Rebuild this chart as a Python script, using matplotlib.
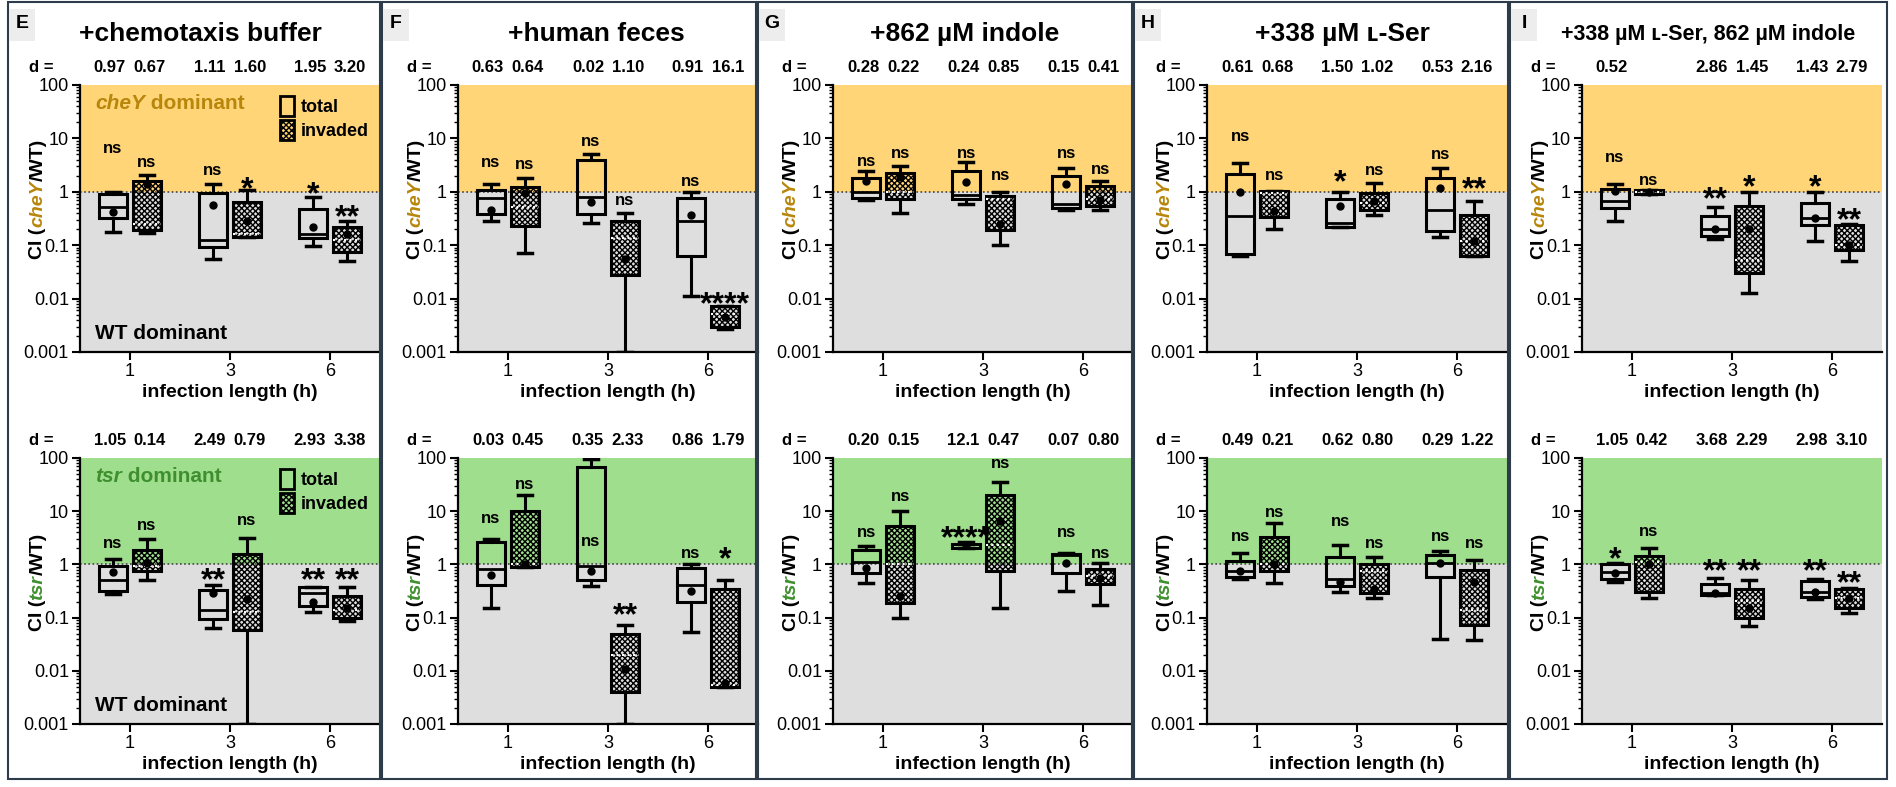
import numpy as np
import matplotlib.pyplot as plt
from matplotlib.patches import Patch, Rectangle
from matplotlib.ticker import LogLocator, NullFormatter

plt.rcParams['font.family'] = ['Liberation Sans', 'DejaVu Sans']
plt.rcParams['hatch.linewidth'] = 1.0

# box stats per time point (1, 3, 6 h): whislo, q1, median, q3, whishi, mean
E_cheY_total = [(0.18, 0.32, 0.52, 0.90, 1.0, 0.42), (0.054, 0.093, 0.127, 0.96, 1.43, 0.56), (0.097, 0.137, 0.165, 0.47, 0.81, 0.22)]
E_cheY_inv = [(0.17, 0.19, 0.25, 1.58, 2.05, 1.4), (0.144, 0.144, 0.165, 0.65, 1.07, 0.29), (0.05, 0.075, 0.124, 0.22, 0.28, 0.165)]
E_tsr_total = [(0.28, 0.32, 0.5, 0.92, 1.28, 0.71), (0.065, 0.095, 0.137, 0.33, 0.415, 0.29), (0.125, 0.163, 0.29, 0.375, 0.375, 0.195)]
E_tsr_inv = [(0.51, 0.76, 0.92, 1.9, 3.0, 1.06), (0.001, 0.059, 0.125, 1.6, 3.2, 0.225), (0.085, 0.098, 0.14, 0.25, 0.375, 0.15)]

F_cheY_total = [(0.29, 0.39, 0.78, 1.1, 1.37, 0.45), (0.26, 0.38, 0.81, 3.9, 5.2, 0.65), (0.011, 0.063, 0.29, 0.78, 1.0, 0.37)]
F_cheY_inv = [(0.07, 0.227, 0.52, 1.24, 1.83, 0.95), (0.001, 0.028, 0.134, 0.29, 0.4, 0.056), (0.0027, 0.0029, 0.0052, 0.0072, 0.0072, 0.0045)]
F_tsr_total = [(0.15, 0.41, 0.83, 2.67, 2.94, 0.64), (0.39, 0.5, 0.92, 67, 97, 0.74), (0.053, 0.2, 0.41, 0.86, 1.0, 0.32)]
F_tsr_inv = [(0.89, 0.89, 1.0, 10, 20, 1.0), (0.001, 0.004, 0.02, 0.05, 0.074, 0.011), (0.005, 0.005, 0.0055, 0.35, 0.5, 0.006)]

G_cheY_total = [(0.69, 0.76, 1.0, 1.83, 2.4, 1.56), (0.6, 0.74, 0.88, 2.4, 3.6, 1.5), (0.45, 0.5, 0.6, 1.96, 2.8, 1.37)]
G_cheY_inv = [(0.4, 0.74, 1.0, 2.27, 3.0, 1.88), (0.1, 0.19, 0.74, 0.85, 1.0, 0.25), (0.45, 0.55, 0.74, 1.26, 1.56, 0.69)]
G_tsr_total = [(0.45, 0.7, 1.1, 1.9, 2.2, 0.87), (2.0, 2.05, 2.37, 2.47, 2.6, 2.3), (0.32, 0.7, 1.5, 1.58, 1.65, 1.04)]
G_tsr_inv = [(0.1, 0.185, 1.0, 5.2, 10, 0.25), (0.15, 0.75, 2.27, 20.5, 36, 6.5), (0.17, 0.43, 0.6, 0.83, 1.04, 0.56)]

H_cheY_total = [(0.062, 0.069, 0.345, 2.14, 3.45, 1.0), (0.218, 0.218, 0.26, 0.74, 1.0, 0.55), (0.14, 0.186, 0.46, 1.8, 2.77, 1.17)]
H_cheY_inv = [(0.2, 0.336, 0.95, 1.05, 1.05, 0.44), (0.37, 0.46, 0.61, 0.94, 1.45, 0.66), (0.064, 0.064, 0.118, 0.37, 0.66, 0.118)]
H_tsr_total = [(0.54, 0.57, 0.75, 1.15, 1.64, 0.75), (0.3, 0.39, 0.53, 1.37, 2.34, 0.47), (0.04, 0.57, 1.07, 1.49, 1.8, 1.07)]
H_tsr_inv = [(0.45, 0.75, 1.0, 3.3, 6.1, 1.0), (0.23, 0.29, 0.75, 1.03, 1.37, 0.345), (0.038, 0.074, 0.14, 0.77, 1.2, 0.47)]

I_cheY_total = [(0.28, 0.49, 0.68, 1.15, 1.39, 1.04), (0.13, 0.146, 0.2, 0.35, 0.53, 0.2), (0.118, 0.234, 0.32, 0.63, 1.0, 0.32)]
I_cheY_inv = [(0.9, 0.9, 1.0, 1.09, 1.09, 1.0), (0.013, 0.03, 0.052, 0.55, 1.0, 0.2), (0.05, 0.08, 0.1, 0.234, 0.25, 0.1)]
I_tsr_total = [(0.46, 0.535, 0.71, 1.0, 1.06, 0.69), (0.263, 0.263, 0.29, 0.42, 0.56, 0.29), (0.22, 0.245, 0.3, 0.48, 0.535, 0.3)]
I_tsr_inv = [(0.235, 0.3, 1.09, 1.45, 2.06, 1.0), (0.07, 0.1, 0.207, 0.35, 0.51, 0.15), (0.123, 0.15, 0.23, 0.35, 0.36, 0.23)]

# significance labels, order: total1, inv1, total3, inv3, total6, inv6
E_cheY_sig = ['ns', 'ns', 'ns', '*', '*', '**']
E_cheY_sig_y = [6.5, 3.5, 2.5, 1.5, 1.24, 0.45]
E_tsr_sig = ['ns', 'ns', '**', 'ns', '**', '**']
E_tsr_sig_y = [2.45, 5.3, 0.7, 6.6, 0.7, 0.7]
F_cheY_sig = ['ns', 'ns', 'ns', 'ns', 'ns', '****']
F_cheY_sig_y = [3.5, 3.26, 8.7, 0.7, 1.54, 0.0108]
F_tsr_sig = ['ns', 'ns', 'ns', '**', 'ns', '*']
F_tsr_sig_y = [7.2, 32, 2.7, 0.15, 1.6, 1.74]
G_cheY_sig = ['ns'] * 6
G_cheY_sig_y = [3.75, 5.3, 5.3, 2.0, 5.3, 2.6]
G_tsr_sig = ['ns', 'ns', '****', 'ns', 'ns', 'ns']
G_tsr_sig_y = [3.9, 19, 4.2, 80, 3.9, 1.6]
H_cheY_sig = ['ns', 'ns', '*', 'ns', 'ns', '**']
H_cheY_sig_y = [10.8, 2.0, 2.08, 2.47, 4.9, 1.56]
H_tsr_sig = ['ns'] * 6
H_tsr_sig_y = [3.3, 9.3, 6.3, 2.45, 3.3, 2.45]
I_cheY_sig = ['ns', 'ns', '**', '*', '*', '**']
I_cheY_sig_y = [4.3, 1.6, 1.0, 1.7, 1.7, 0.41]
I_tsr_sig = ['*', 'ns', '**', '**', '**', '**']
I_tsr_sig_y = [1.7, 4.2, 1.0, 1.0, 1.0, 0.62]

# effect sizes
E_cheY_d = ['0.97', '0.67', '1.11', '1.60', '1.95', '3.20']
E_tsr_d = ['1.05', '0.14', '2.49', '0.79', '2.93', '3.38']
F_cheY_d = ['0.63', '0.64', '0.02', '1.10', '0.91', '16.1']
F_tsr_d = ['0.03', '0.45', '0.35', '2.33', '0.86', '1.79']
G_cheY_d = ['0.28', '0.22', '0.24', '0.85', '0.15', '0.41']
G_tsr_d = ['0.20', '0.15', '12.1', '0.47', '0.07', '0.80']
H_cheY_d = ['0.61', '0.68', '1.50', '1.02', '0.53', '2.16']
H_tsr_d = ['0.49', '0.21', '0.62', '0.80', '0.29', '1.22']
I_cheY_d = ['0.52', '', '2.86', '1.45', '1.43', '2.79']
I_tsr_d = ['1.05', '0.42', '3.68', '2.29', '2.98', '3.10']

letters = ['E', 'F', 'G', 'H', 'I']
titles = ['+chemotaxis buffer', '+human feces', '+862 µM indole', '+338 µM ʟ-Ser', '+338 µM ʟ-Ser, 862 µM indole']
title_sizes = [19, 19, 19, 19, 15.5]
title_x = [0.40, 0.46, 0.44, 0.45, 0.42]
times = ['1', '3', '6']

ORANGE = '#FFD577'
GREEN = '#9EDE8D'
GRAY = '#DEDEDE'
GOLD = '#B8860B'
DKGREEN = '#3F8F2F'

W, H = 1896, 787
fig = plt.figure(figsize=(W / 100, H / 100), dpi=100)
lefts = [80, 458, 833, 1207, 1582]
edges = [7, 381, 757, 1133, 1509, 1888]
off = 0.17
doff = 0.2


def draw(ax, total, inv, sig, sig_y, dvals, gene, bg, gcol, first):
    ax.set_yscale('log')
    ax.set_ylim(1e-3, 100)
    ax.set_xlim(-0.5, 2.5)
    ax.axhspan(1, 100, color=bg, lw=0, zorder=0)
    ax.axhspan(1e-3, 1, color=GRAY, lw=0, zorder=0)
    ax.axhline(1, ls=(0, (1, 1.5)), color='#444444', lw=1.2, zorder=1)
    pos_t = np.arange(3) - off
    pos_i = np.arange(3) + off
    for data, pos, kind in [(total, pos_t, 't'), (inv, pos_i, 'i')]:
        st = [dict(whislo=s[0], q1=s[1], med=s[2], q3=s[3], whishi=s[4], fliers=[]) for s in data]
        bp = dict(facecolor='none', edgecolor='k', lw=2.2)
        mp = dict(color='k', lw=2)
        if kind == 'i':
            bp['hatch'] = 'xxxxxx'
            mp = dict(color='white', lw=1.5, ls=':')
        ax.bxp(st, positions=pos, widths=0.28, capwidths=0.14, patch_artist=True,
               showfliers=False, boxprops=bp, medianprops=mp,
               whiskerprops=dict(lw=2.2, color='k'), capprops=dict(lw=2.5, color='k'),
               manage_ticks=False)
        ax.plot(pos, [s[5] for s in data], 'o', color='k', ms=5, zorder=5)
    xs = [p for pair in zip(pos_t, pos_i) for p in pair]
    for x, lab, y in zip(xs, sig, sig_y):
        if lab == 'ns':
            ax.text(x, y, lab, ha='center', va='center', fontsize=12, fontweight='bold')
        else:
            ax.annotate(lab, (x, y), xytext=(0, -6), textcoords='offset points',
                        ha='center', va='center', fontsize=23, fontweight='bold')
    tr = ax.get_xaxis_transform()
    ax.text(-0.13, 1.067, 'd =', transform=ax.transAxes, ha='center', va='center',
            fontsize=12, fontweight='bold')
    dxs = [p for t in range(3) for p in (t - doff, t + doff)]
    for x, d in zip(dxs, dvals):
        ax.text(x, 1.067, d, transform=tr, ha='center', va='center', fontsize=12, fontweight='bold')
    for s in ['top', 'right']:
        ax.spines[s].set_visible(False)
    for s in ['left', 'bottom']:
        ax.spines[s].set_linewidth(1.6)
    ax.set_xticks([0, 1, 2])
    ax.set_xticklabels(times)
    ax.set_yticks([1e-3, 1e-2, 1e-1, 1, 10, 100])
    ax.set_yticklabels(['0.001', '0.01', '0.1', '1', '10', '100'])
    ax.yaxis.set_minor_locator(LogLocator(base=10, subs=np.arange(2, 10)))
    ax.yaxis.set_minor_formatter(NullFormatter())
    ax.tick_params(axis='both', which='major', labelsize=13, width=1.5, length=6, pad=2)
    ax.tick_params(axis='y', which='minor', width=1, length=3)
    ax.set_xlabel('infection length (h)', fontsize=14, fontweight='bold', labelpad=3)
    # multi-coloured y label
    t1 = ax.text(-0.14, 0.35, 'CI (', transform=ax.transAxes, rotation=90, ha='center',
                 va='bottom', fontsize=14, fontweight='bold')
    t2 = ax.annotate(gene, xy=(0, 1), xycoords=t1, rotation=90, ha='left', va='bottom',
                     fontsize=14, fontweight='bold', style='italic', color=gcol)
    ax.annotate('/WT)', xy=(0, 1), xycoords=t2, rotation=90, ha='left', va='bottom',
                fontsize=14, fontweight='bold')
    if first:
        a1 = ax.text(0.05, 0.93, gene, transform=ax.transAxes, ha='left', va='center',
                     fontsize=15, fontweight='bold', style='italic', color=gcol)
        ax.annotate(' dominant', xy=(1, 0), xycoords=a1, ha='left', va='bottom',
                    fontsize=15, fontweight='bold', color=gcol)
        ax.text(0.05, 0.07, 'WT dominant', transform=ax.transAxes, ha='left', va='center',
                fontsize=15, fontweight='bold')
        handles = [Patch(facecolor='none', edgecolor='k', lw=2, label='total'),
                   Patch(facecolor='none', edgecolor='k', lw=2, hatch='xxxxxx', label='invaded')]
        ax.legend(handles=handles, loc='upper right', frameon=False,
                  handlelength=0.8, handleheight=1.3, borderaxespad=0.2, labelspacing=0.25,
                  handletextpad=0.4, prop=dict(weight='bold', size=13))


cheY_sets = [(E_cheY_total, E_cheY_inv, E_cheY_sig, E_cheY_sig_y, E_cheY_d),
             (F_cheY_total, F_cheY_inv, F_cheY_sig, F_cheY_sig_y, F_cheY_d),
             (G_cheY_total, G_cheY_inv, G_cheY_sig, G_cheY_sig_y, G_cheY_d),
             (H_cheY_total, H_cheY_inv, H_cheY_sig, H_cheY_sig_y, H_cheY_d),
             (I_cheY_total, I_cheY_inv, I_cheY_sig, I_cheY_sig_y, I_cheY_d)]
tsr_sets = [(E_tsr_total, E_tsr_inv, E_tsr_sig, E_tsr_sig_y, E_tsr_d),
            (F_tsr_total, F_tsr_inv, F_tsr_sig, F_tsr_sig_y, F_tsr_d),
            (G_tsr_total, G_tsr_inv, G_tsr_sig, G_tsr_sig_y, G_tsr_d),
            (H_tsr_total, H_tsr_inv, H_tsr_sig, H_tsr_sig_y, H_tsr_d),
            (I_tsr_total, I_tsr_inv, I_tsr_sig, I_tsr_sig_y, I_tsr_d)]

for i in range(5):
    x0 = lefts[i]
    # panel frame and letter box
    fig.add_artist(Rectangle(((edges[i] + 1) / W, 8 / H), (edges[i + 1] - edges[i] - 2) / W, 777 / H,
                             transform=fig.transFigure, fill=False, ec='#2E3B4A', lw=1.5))
    fig.add_artist(Rectangle(((edges[i] + 2) / W, 1 - 41 / H), 26 / W, 32 / H,
                             transform=fig.transFigure, fc='#EDEDED', ec='none'))
    fig.text((edges[i] + 15) / W, 1 - 24 / H, letters[i], ha='center', va='center',
             fontsize=14, fontweight='bold')
    ax1 = fig.add_axes([x0 / W, 1 - 352 / H, 300 / W, 267 / H])
    draw(ax1, *cheY_sets[i][:4], cheY_sets[i][4], 'cheY', ORANGE, GOLD, i == 0)
    ax1.text(title_x[i], 1.19, titles[i], transform=ax1.transAxes, ha='center', va='center',
             fontsize=title_sizes[i], fontweight='bold')
    ax2 = fig.add_axes([x0 / W, 1 - 724 / H, 300 / W, 266 / H])
    draw(ax2, *tsr_sets[i][:4], tsr_sets[i][4], 'tsr', GREEN, DKGREEN, i == 0)

fig.savefig('out.png', dpi=100)
